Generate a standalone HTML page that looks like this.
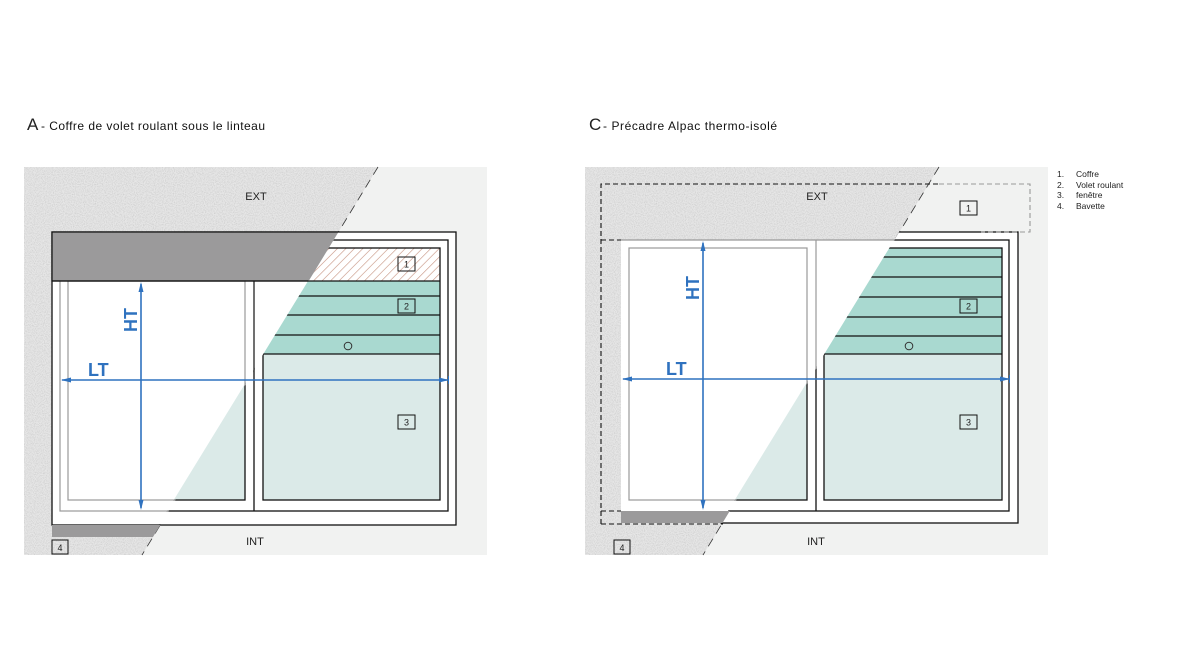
<!DOCTYPE html>
<html><head><meta charset="utf-8"><style>
html,body{margin:0;padding:0;background:#fff;}
svg{display:block;font-family:"Liberation Sans",sans-serif;}
</style></head><body>
<svg width="1195" height="658" viewBox="0 0 1195 658" xmlns="http://www.w3.org/2000/svg">
<defs>
  <pattern id="hatch" width="6" height="6" patternUnits="userSpaceOnUse" patternTransform="rotate(45)">
    <rect width="6" height="6" fill="#fff"/>
    <line x1="0" y1="0" x2="0" y2="6" stroke="#c48f7c" stroke-width="1.2"/>
  </pattern>
  <filter id="speck" x="0" y="0" width="100%" height="100%">
    <feTurbulence type="fractalNoise" baseFrequency="0.9" numOctaves="2" seed="3" result="n"/>
    <feColorMatrix type="matrix" values="0 0 0 0 0.6  0 0 0 0 0.6  0 0 0 0 0.6  0 0 0 -2.2 1.35" in="n" result="m"/>
    <feComposite in="m" in2="SourceGraphic" operator="in"/>
  </filter>
  <clipPath id="R"><polygon points="378,167 487,167 487,560 142,560 140,555"/></clipPath>
  <clipPath id="L"><polygon points="0,160 378,160 378,167 142,555 140,560 0,560"/></clipPath>
</defs>

<!-- Titles -->
<text x="27" y="130" font-size="17" fill="#222">A</text>
<text x="41" y="130" font-size="12" fill="#111" textLength="224" lengthAdjust="spacing">- Coffre de volet roulant sous le linteau</text>
<text x="589" y="130" font-size="17" fill="#222">C</text>
<text x="603" y="130" font-size="12" fill="#111" textLength="174" lengthAdjust="spacing">-  Précadre Alpac thermo-isolé</text>

<!-- Legend -->
<g font-size="8.5" fill="#222">
<text x="1057" y="177">1.</text><text x="1076" y="177">Coffre</text>
<text x="1057" y="188">2.</text><text x="1076" y="188">Volet roulant</text>
<text x="1057" y="198">3.</text><text x="1076" y="198">fenêtre</text>
<text x="1057" y="209">4.</text><text x="1076" y="209">Bavette</text>
</g>

<!-- ============ PANEL A ============ -->
<g>
  <rect x="24" y="167" width="463" height="388" fill="#f1f2f1"/>
  <polygon points="24,167 378,167 142,555 24,555" fill="#e6e6e6"/>
  <polygon points="24,167 378,167 142,555 24,555" fill="#fff" filter="url(#speck)" opacity="0.9"/>
  <line x1="378" y1="167" x2="142" y2="555" stroke="#333" stroke-width="0.8" stroke-dasharray="9,6"/>

  <rect x="52" y="232" width="404" height="293" fill="#fff"/>
  <g clip-path="url(#R)">
    <rect x="263" y="248" width="177" height="33" fill="url(#hatch)"/>
    <rect x="263" y="281" width="177" height="73" fill="#a9d9d0"/>
    <rect x="263" y="354" width="177" height="146" fill="#dbeae8"/>
    <rect x="68" y="281" width="177" height="219" fill="#dbeae8"/>
  </g>
  <g clip-path="url(#R)" fill="none" stroke="#111" stroke-width="1.3">
    <rect x="52" y="232" width="404" height="293"/>
    <rect x="60" y="240" width="388" height="271"/>
    <line x1="254" y1="240" x2="254" y2="511"/>
    <rect x="263" y="248" width="177" height="252"/>
    <rect x="68" y="281" width="177" height="219"/>
    <line x1="263" y1="281" x2="440" y2="281"/>
    <line x1="263" y1="296" x2="440" y2="296"/>
    <line x1="263" y1="315" x2="440" y2="315"/>
    <line x1="263" y1="335" x2="440" y2="335"/>
    <line x1="263" y1="354" x2="440" y2="354"/>
  </g>
  <g clip-path="url(#L)" fill="none" stroke="#999" stroke-width="1.2">
    <rect x="60" y="240" width="388" height="271"/>
    <rect x="68" y="281" width="177" height="219"/>
    <line x1="254" y1="240" x2="254" y2="511" stroke="#111"/>
  </g>
  <rect x="52" y="232" width="404" height="293" fill="none" stroke="#111" stroke-width="1.3" clip-path="url(#L)"/>
  <g clip-path="url(#L)">
    <rect x="52" y="232" width="404" height="49" fill="#9b9a9b" stroke="#111" stroke-width="1.2"/>
    <rect x="52" y="525" width="404" height="12" fill="#9b9a9b"/>
  </g>
  <line x1="52" y1="281" x2="308" y2="281" stroke="#111" stroke-width="1.3"/>

  <circle cx="348" cy="346" r="3.8" fill="none" stroke="#333" stroke-width="1"/>
  <g font-size="9" fill="#222" text-anchor="middle">
    <rect x="398" y="257" width="17" height="14" fill="none" stroke="#111"/><text x="406.5" y="267.5">1</text>
    <rect x="398" y="299" width="17" height="14" fill="none" stroke="#111"/><text x="406.5" y="309.5">2</text>
    <rect x="398" y="415" width="17" height="14" fill="none" stroke="#111"/><text x="406.5" y="425.5">3</text>
    <rect x="52" y="540" width="16" height="14" fill="none" stroke="#111"/><text x="60" y="551">4</text>
  </g>
  <text x="256" y="200" font-size="11" fill="#222" text-anchor="middle">EXT</text>
  <text x="255" y="545" font-size="11" fill="#222" text-anchor="middle">INT</text>

  <g stroke="#2f72bf" stroke-width="1.6" fill="#2f72bf">
    <line x1="141" y1="284" x2="141" y2="508"/>
    <line x1="62" y1="380" x2="448" y2="380"/>
    <line x1="448.5" y1="376" x2="448.5" y2="384" stroke-width="1"/>
  </g>
  <g fill="#2f72bf">
    <polygon points="141,282 138.5,292 143.5,292"/>
    <polygon points="141,510 138.5,500 143.5,500"/>
    <polygon points="61,380 71,377.5 71,382.5"/>
    <polygon points="449,380 439,377.5 439,382.5"/>
  </g>
  <text x="88" y="376" font-size="18" font-weight="bold" fill="#2f72bf">LT</text>
  <text transform="translate(137,320) rotate(-90)" font-size="18" font-weight="bold" fill="#2f72bf" text-anchor="middle">HT</text>
</g>

<!-- ============ PANEL C ============ -->
<g transform="translate(561,0)">
  <rect x="24" y="167" width="463" height="388" fill="#f1f2f1"/>
  <polygon points="24,167 378,167 142,555 24,555" fill="#e6e6e6"/>
  <polygon points="24,167 378,167 142,555 24,555" fill="#fff" filter="url(#speck)" opacity="0.9"/>
  <line x1="378" y1="167" x2="142" y2="555" stroke="#333" stroke-width="0.8" stroke-dasharray="9,6"/>

  <rect x="60" y="240" width="396" height="283" fill="#fff" clip-path="url(#L)"/>
  <rect x="52" y="232" width="405" height="291" fill="#fff" clip-path="url(#R)"/>
  <g clip-path="url(#R)">
    <rect x="263" y="248" width="178" height="106" fill="#a9d9d0"/>
    <rect x="263" y="354" width="178" height="146" fill="#dbeae8"/>
    <rect x="68" y="248" width="178" height="252" fill="#dbeae8"/>
  </g>
  <g clip-path="url(#R)" fill="none" stroke="#111" stroke-width="1.3">
    <rect x="52" y="232" width="405" height="291"/>
    <rect x="60" y="240" width="388" height="271"/>
    <line x1="255" y1="240" x2="255" y2="511"/>
    <rect x="263" y="248" width="178" height="252"/>
    <rect x="68" y="248" width="178" height="252"/>
    <line x1="263" y1="257" x2="441" y2="257"/>
    <line x1="263" y1="277" x2="441" y2="277"/>
    <line x1="263" y1="297" x2="441" y2="297"/>
    <line x1="263" y1="317" x2="441" y2="317"/>
    <line x1="263" y1="336" x2="441" y2="336"/>
    <line x1="263" y1="354" x2="441" y2="354"/>
  </g>
  <g clip-path="url(#L)" fill="none" stroke="#999" stroke-width="1.2">
    <line x1="60" y1="240" x2="448" y2="240"/>
    <line x1="255" y1="240" x2="255" y2="511"/>
    <rect x="68" y="248" width="178" height="252"/>
  </g>
  <g clip-path="url(#L)">
    <rect x="60" y="511" width="400" height="12" fill="#9b9a9b"/>
  </g>
  <g fill="none" stroke-width="1.1" stroke-dasharray="5,3">
    <path d="M40,524 V184 H378" stroke="#111"/>
    <path d="M378,184 H469 V232 H420" stroke="#999"/>
    <line x1="40" y1="240" x2="60" y2="240" stroke="#111"/>
    <line x1="40" y1="511" x2="60" y2="511" stroke="#111"/>
    <line x1="40" y1="524" x2="162" y2="524" stroke="#111"/>
  </g>

  <circle cx="348" cy="346" r="3.8" fill="none" stroke="#333" stroke-width="1"/>
  <g font-size="9" fill="#222" text-anchor="middle">
    <rect x="399" y="201" width="17" height="14" fill="none" stroke="#111"/><text x="407.5" y="211.5">1</text>
    <rect x="399" y="299" width="17" height="14" fill="none" stroke="#111"/><text x="407.5" y="309.5">2</text>
    <rect x="399" y="415" width="17" height="14" fill="none" stroke="#111"/><text x="407.5" y="425.5">3</text>
    <rect x="53" y="540" width="16" height="14" fill="none" stroke="#111"/><text x="61" y="551">4</text>
  </g>
  <text x="256" y="200" font-size="11" fill="#222" text-anchor="middle">EXT</text>
  <text x="255" y="545" font-size="11" fill="#222" text-anchor="middle">INT</text>

  <g stroke="#2f72bf" stroke-width="1.6" fill="#2f72bf">
    <line x1="142" y1="243" x2="142" y2="508"/>
    <line x1="62" y1="379" x2="448" y2="379"/>
    <line x1="448.5" y1="375" x2="448.5" y2="383" stroke-width="1"/>
  </g>
  <g fill="#2f72bf">
    <polygon points="142,241 139.5,251 144.5,251"/>
    <polygon points="142,510 139.5,500 144.5,500"/>
    <polygon points="61,379 71,376.5 71,381.5"/>
    <polygon points="449,379 439,376.5 439,381.5"/>
  </g>
  <text x="105" y="375" font-size="18" font-weight="bold" fill="#2f72bf">LT</text>
  <text transform="translate(138,288) rotate(-90)" font-size="18" font-weight="bold" fill="#2f72bf" text-anchor="middle">HT</text>
</g>
</svg>
</body></html>
